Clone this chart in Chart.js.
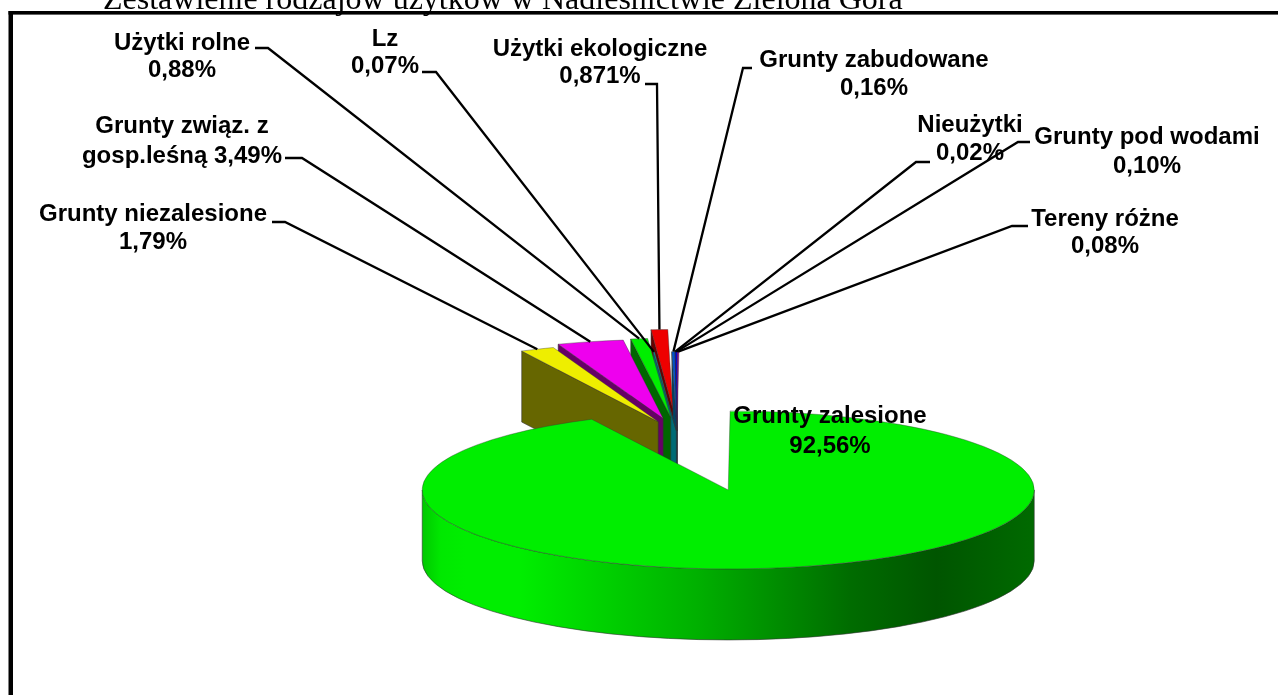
<!DOCTYPE html>
<html lang="pl">
<head>
<meta charset="utf-8">
<style>
html,body{margin:0;padding:0;background:#fff;overflow:hidden}
canvas{display:block}
</style>
<script src="https://cdn.jsdelivr.net/npm/chart.js@4/dist/chart.umd.min.js"></script>
</head>
<body>
<canvas id="c" width="1278" height="695"></canvas>
<script>
// Data (the large slice is last so it paints over the walls of the others)
const categories = ["Grunty niezalesione","Grunty związ. z gosp.leśną","Użytki rolne","Lz","Użytki ekologiczne","Grunty zabudowane","Nieużytki","Grunty pod wodami","Tereny różne","Grunty zalesione"];
const shares = [1.79,3.49,0.88,0.07,0.871,0.16,0.02,0.10,0.08,92.56];
const chartTitle = "Zestawienie rodzajów użytków w Nadleśnictwie Zielona Góra";

// Style
const topColors  = ["#eeee00","#ee00ee","#00ee00","#009999","#ee0000","#0055cc","#000099","#0000ee","#990099","#00ee00"];
const wallColors = ["#666600","#660066","#006600","#006b75","#660000","#004466","#000044","#000066","#660066","#006600"];
const explode = [0.155,0.19,0.2,0.03,0.31,0.03,0.03,0.03,0.03,0.74];
const R = 306, SQUASH = 79/306, DEPTH = 71;
const CX = 677, CY = 433;

// label text lines, centre x, baselines, leader start (x0,y) and bend x; index into categories
const labelLayout = [
 {i:0, lines:["Grunty niezalesione","1,79%"], x:153, y:[221,249], lead:[272,222,285]},
 {i:1, lines:["Grunty związ. z","gosp.leśną 3,49%"], x:182, y:[133,163], lead:[285,158,302]},
 {i:2, lines:["Użytki rolne","0,88%"], x:182, y:[50,77], lead:[255,48,268]},
 {i:3, lines:["Lz","0,07%"], x:385, y:[46,73], lead:[422,72,436]},
 {i:4, lines:["Użytki ekologiczne","0,871%"], x:600, y:[56,83], lead:[645,84,657]},
 {i:5, lines:["Grunty zabudowane","0,16%"], x:874, y:[67,95], lead:[752,68,743]},
 {i:6, lines:["Nieużytki","0,02%"], x:970, y:[132,160], lead:[930,162,916]},
 {i:7, lines:["Grunty pod wodami","0,10%"], x:1147, y:[144,173], lead:[1030,142,1018]},
 {i:8, lines:["Tereny różne","0,08%"], x:1105, y:[226,253], lead:[1028,226,1012]},
 {i:9, lines:["Grunty zalesione","92,56%"], x:830, y:[423,453], lead:null}
];

const midAngle = a => (a.startAngle + a.endAngle) / 2;
const sy = y => CY + (y - CY) * SQUASH;

const pie3d = {
  id: 'pie3d',
  afterDatasetsUpdate(chart) {
    chart.getDatasetMeta(0).data.forEach((arc, i) => {
      const m = midAngle(arc), d = explode[i] * R;
      arc.x = CX + Math.cos(m) * d;
      arc.y = CY + Math.sin(m) * d;
    });
  },
  beforeDraw(chart) {
    const ctx = chart.ctx;
    ctx.save();
    ctx.fillStyle = '#fff';
    ctx.fillRect(0, 0, 1278, 695);
    ctx.fillStyle = '#000';
    ctx.font = '32px "Liberation Serif"';
    ctx.textAlign = 'left';
    ctx.textBaseline = 'alphabetic';
    ctx.fillText(chartTitle, 103, 9);
    ctx.fillStyle = '#000';
    ctx.fillRect(8.5, 11, 4.5, 684);
    ctx.fillRect(8.5, 11, 1270, 3.6);
    ctx.restore();
  },
  beforeDatasetsDraw(chart) {
    const ctx = chart.ctx, arcs = chart.getDatasetMeta(0).data;
    ctx.save();
    ctx.lineWidth = 0.6;
    ctx.strokeStyle = '#333';
    // start-edge walls of small slices, right-most first
    for (let i = arcs.length - 2; i >= 0; i--) {
      const a = arcs[i];
      const ax = a.x, ay = sy(a.y);
      const ox = a.x + Math.cos(a.startAngle) * a.outerRadius;
      const oy = sy(a.y + Math.sin(a.startAngle) * a.outerRadius);
      ctx.beginPath();
      ctx.moveTo(ax, ay); ctx.lineTo(ox, oy);
      ctx.lineTo(ox, oy + DEPTH); ctx.lineTo(ax, ay + DEPTH);
      ctx.closePath();
      ctx.fillStyle = wallColors[i];
      ctx.fill(); ctx.stroke();
    }
    // curved front wall of the large slice
    const m = arcs[arcs.length - 1];
    const mx = m.x, my = sy(m.y), rx = m.outerRadius, ry = rx * SQUASH;
    const g = ctx.createLinearGradient(mx - rx, 0, mx + rx, 0);
    g.addColorStop(0, '#00c800');
    g.addColorStop(0.03, '#00e800');
    g.addColorStop(0.07, '#00ee00');
    g.addColorStop(0.16, '#00ee00');
    g.addColorStop(0.45, '#00b000');
    g.addColorStop(0.70, '#006c00');
    g.addColorStop(0.84, '#005500');
    g.addColorStop(1, '#006a00');
    ctx.beginPath();
    ctx.ellipse(mx, my, rx, ry, 0, 0, Math.PI);
    ctx.ellipse(mx, my + DEPTH, rx, ry, 0, Math.PI, 0, true);
    ctx.closePath();
    ctx.fillStyle = g;
    ctx.fill(); ctx.stroke();
    ctx.restore();
    // squash the library's arcs into the tilted plane
    ctx.save();
    ctx.translate(0, CY);
    ctx.scale(1, SQUASH);
    ctx.translate(0, -CY);
  },
  afterDatasetsDraw(chart) {
    const ctx = chart.ctx, arcs = chart.getDatasetMeta(0).data;
    ctx.restore();
    ctx.save();
    ctx.strokeStyle = '#000';
    ctx.lineWidth = 2.3;
    ctx.lineJoin = 'miter';
    labelLayout.forEach(l => {
      if (!l.lead) return;
      const a = arcs[l.i], h = midAngle(a);
      const ex = a.x + Math.cos(h) * a.outerRadius;
      const ey = sy(a.y + Math.sin(h) * a.outerRadius);
      ctx.beginPath();
      ctx.moveTo(l.lead[0], l.lead[1]);
      ctx.lineTo(l.lead[2], l.lead[1]);
      ctx.lineTo(ex, ey);
      ctx.stroke();
    });
    ctx.fillStyle = '#000';
    ctx.font = 'bold 24px "Liberation Sans"';
    ctx.textAlign = 'center';
    ctx.textBaseline = 'alphabetic';
    labelLayout.forEach(l => l.lines.forEach((t, j) => ctx.fillText(t, l.x, l.y[j])));
    ctx.restore();
  }
};

new Chart(document.getElementById('c'), {
  type: 'pie',
  data: {
    labels: categories,
    datasets: [{
      data: shares,
      backgroundColor: topColors,
      borderColor: '#333',
      borderWidth: 0.6,
      clip: false
    }]
  },
  options: {
    responsive: false,
    animation: false,
    events: [],
    radius: R,
    rotation: 333.5,
    layout: { padding: { left: 2 * CX - 1278, top: 2 * CY - 695, right: 0, bottom: 0 } },
    plugins: { legend: { display: false }, title: { display: false }, tooltip: { enabled: false } }
  },
  plugins: [pie3d]
});
</script>
</body>
</html>
